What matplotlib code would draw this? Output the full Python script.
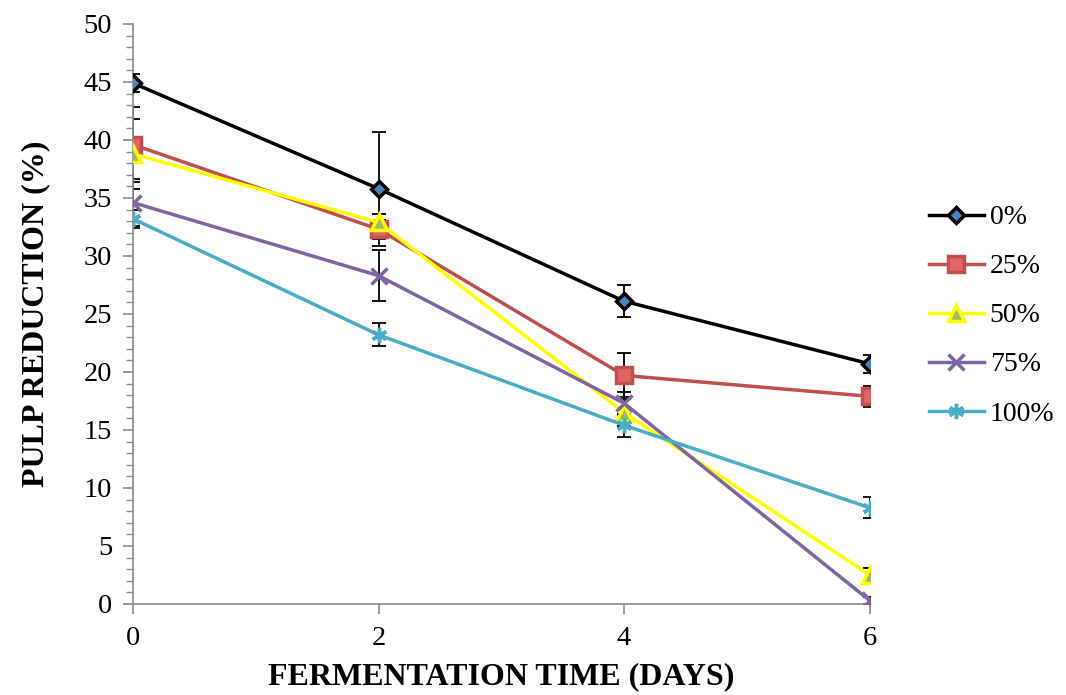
import numpy as np
import matplotlib
matplotlib.use("Agg")
import matplotlib.pyplot as plt
from matplotlib.ticker import MultipleLocator

days = [0, 2, 4, 6]
labels = ["0%", "25%", "50%", "75%", "100%"]
values = [
    [44.9, 35.8, 26.1, 20.7],
    [39.6, 32.3, 19.7, 17.9],
    [38.8, 32.9, 16.5, 2.5],
    [34.6, 28.3, 17.3, 0.3],
    [33.2, 23.2, 15.4, 8.3],
]
errors = [
    [0.8, 4.9, 1.4, 0.8],
    [3.2, 0.8, 1.9, 0.9],
    [3.0, 0.7, 1.2, 0.6],
    [2.0, 2.2, 1.0, 0.3],
    [0.8, 1.0, 1.0, 0.9],
]

line_colors = ["#000000", "#C0504D", "#FFFF00", "#8064A2", "#4BACC6"]
face_colors = ["#4F81BD", "#E06666", "#9BBB59", "#8064A2", "#4BACC6"]
edge_colors = ["#000000", "#C0504D", "#FFFF00", "#8064A2", "#4BACC6"]
markers = ["D", "s", "^", "x", (6, 2, 0)]
msizes = [8, 11, 11, 11, 11]

fig = plt.figure(figsize=(10.66, 6.95), dpi=100)
ax = fig.add_axes([0.1248, 0.131, 0.691, 0.8345])

for i in range(len(labels)):
    ax.errorbar(days, values[i], yerr=errors[i], fmt="none", ecolor="black",
                elinewidth=1.3, capsize=5, capthick=1.3, zorder=2)
for i in range(len(labels)):
    ax.plot(days, values[i], color=line_colors[i], lw=2.5, marker=markers[i],
            ms=msizes[i], mfc=face_colors[i], mec=edge_colors[i], mew=2.5,
            label=labels[i], zorder=3 + i * 0.1)

ax.set_xlim(0, 6)
ax.set_ylim(0, 50)
ax.set_xticks(days)
ax.yaxis.set_major_locator(MultipleLocator(5))
ax.yaxis.set_minor_locator(MultipleLocator(1))
for s in ["top", "right"]:
    ax.spines[s].set_visible(False)
for s in ["left", "bottom"]:
    ax.spines[s].set_color("#888888")
    ax.spines[s].set_linewidth(1.2)
ax.tick_params(axis="both", which="major", direction="out", length=7,
               color="#888888", width=1.2, labelsize=20.5)
ax.tick_params(axis="x", which="major", pad=9)
ax.tick_params(axis="y", which="major", pad=8)
ax.tick_params(axis="y", which="minor", direction="out", length=5,
               color="#888888", width=1.0)
for t in ax.get_xticklabels() + ax.get_yticklabels():
    t.set_fontfamily("Liberation Serif")

ax.set_xlabel("FERMENTATION TIME (DAYS)", fontfamily="Liberation Serif",
              fontweight="bold", fontsize=23, labelpad=8)
ax.set_ylabel("PULP REDUCTION (%)", fontfamily="Liberation Serif",
              fontweight="bold", fontsize=23, labelpad=24)

leg = ax.legend(loc="center left", bbox_to_anchor=(1.08, 0.497), frameon=False,
                prop={"family": "Liberation Serif", "size": 20},
                handlelength=2.0, labelspacing=0.85, handletextpad=0.2,
                borderaxespad=0, borderpad=0)

fig.savefig("out.png", dpi=100)
